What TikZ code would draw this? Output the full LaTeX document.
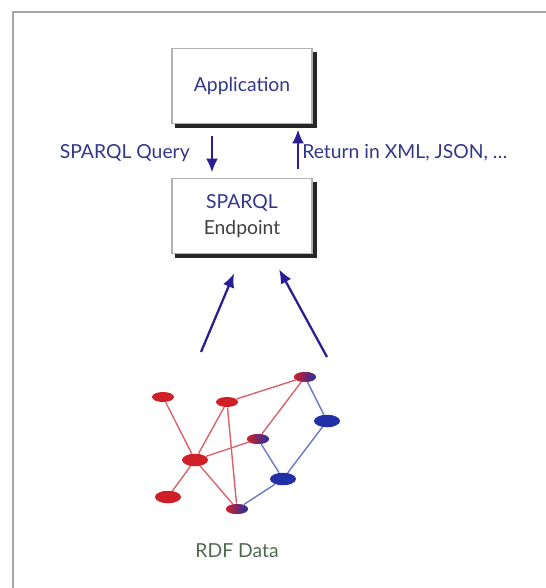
\documentclass[tikz,border=0pt]{standalone}
\usepackage{fontspec}
\setmainfont{Lato}
\usetikzlibrary{positioning,shapes.geometric,backgrounds,arrows.meta}
\definecolor{navy}{HTML}{35358A}
\definecolor{arrowblue}{HTML}{2B1D92}
\definecolor{nodered}{HTML}{CF2027}
\definecolor{nodeblue}{HTML}{2130A6}
\definecolor{edgered}{HTML}{D9646A}
\definecolor{edgeblue}{HTML}{6A78CC}
\definecolor{datagreen}{HTML}{4E6A4E}
\begin{document}
\begin{tikzpicture}[x=0.02cm, y=-0.02cm,
  box/.style={rectangle, minimum width=2.8cm, minimum height=1.5cm, align=center, draw=black!30, line width=1.1pt, fill=white, font=\fontsize{11}{15}\selectfont, text=navy},
  boxshadow/.style={fill=black!85},
  flow/.style={-{Latex[length=0.28cm, width=0.24cm]}, line width=1.3pt, arrowblue},
  caption/.style={font=\fontsize{11}{13}\selectfont, text=navy, inner sep=0pt},
  vertex/.style={ellipse, inner sep=0pt, minimum width=0.44cm, minimum height=0.2cm, fill=nodered},
  bigvertex/.style={vertex, minimum width=0.52cm, minimum height=0.25cm},
  mixed/.style={left color=nodered, right color=nodeblue},
  redlink/.style={edgered, line width=0.8pt},
  bluelink/.style={edgeblue, line width=0.8pt}]
\useasboundingbox (0,0) rectangle (546,588);
% Rahmen
\draw[black!35, line width=1.2pt] (13,588) -- (13,12) -- (546,12);

% Kästen
\node (app) [box] at (242,86) {Application};
\node (ep) [box] at (242,216) {SPARQL\\\textcolor{black!75}{Endpoint}};
\begin{scope}[on background layer]
\fill[boxshadow] ([shift={(4,4)}]app.north west) rectangle ([shift={(4,4)}]app.south east);
\fill[boxshadow] ([shift={(4,4)}]ep.north west) rectangle ([shift={(4,4)}]ep.south east);
\end{scope}

% Anfrage und Antwort
\draw[flow, shorten <=0.24cm, shorten >=0.1cm] (app.south -| 212,0) -- (ep.north -| 212,0);
\draw[flow, shorten <=0.18cm, shorten >=0.1cm] (ep.north -| 298,0) -- (app.south -| 298,0);
\node (query) [caption, anchor=east] at (190,153) {SPARQL Query};
\node (ret) [caption, anchor=west] at (302,153) {Return in XML, JSON, \ldots};

% RDF-Graph
\node (a) [vertex] at (163,397) {};
\node (b) [vertex] at (227,402) {};
\node (c) [vertex, mixed] at (305,377) {};
\node (d) [bigvertex, fill=nodeblue] at (327,421) {};
\node (e) [vertex, mixed] at (258,439) {};
\node (f) [bigvertex] at (195,460) {};
\node (g) [bigvertex, fill=nodeblue] at (283,479) {};
\node (h) [bigvertex] at (168,497) {};
\node (i) [vertex, mixed] at (237,509) {};

\draw[redlink] (a) -- (f);
\draw[redlink] (b) -- (f);
\draw[redlink] (b) -- (i);
\draw[redlink] (b) -- (c);
\draw[redlink] (f) -- (e);
\draw[redlink] (f) -- (h);
\draw[redlink] (f) -- (i);
\draw[redlink] (c) -- (e);
\draw[bluelink] (c) -- (d);
\draw[bluelink] (d) -- (g);
\draw[bluelink] (e) -- (g);
\draw[bluelink] (g) -- (i);

\node (rdf) [caption, text=datagreen] at (237,551) {RDF Data};

% Pfeile zum Endpoint
\coordinate (src1) at (201,352);
\coordinate (src2) at (327,357);
\draw[flow, shorten >=0.41cm] (src1) -- (ep.south);
\draw[flow, shorten >=0.34cm] (src2) -- (ep.south -| 271,0);
\end{tikzpicture}
\end{document}
